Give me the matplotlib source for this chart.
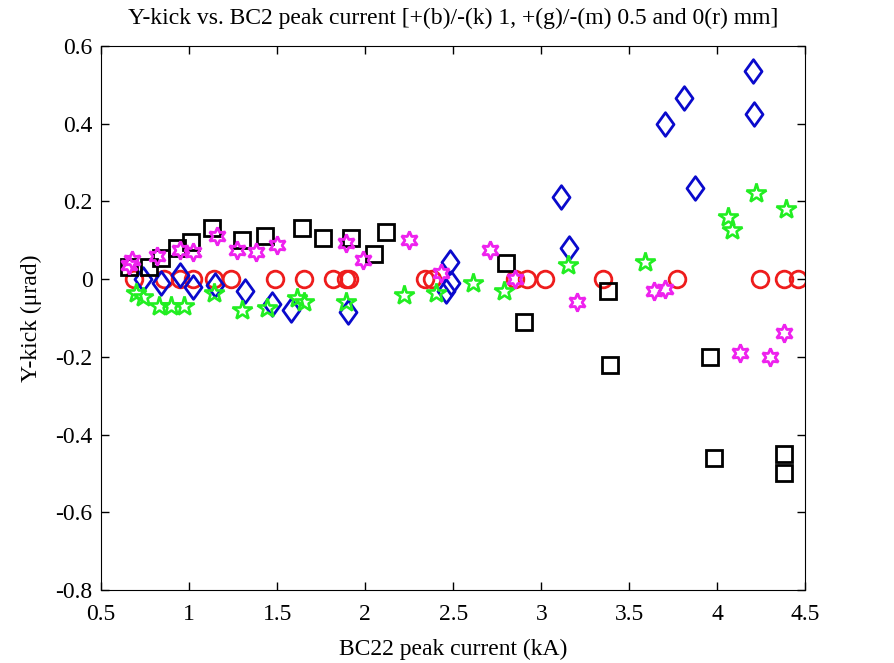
import matplotlib
matplotlib.use("Agg")
import matplotlib.pyplot as plt
from matplotlib.path import Path

# +1 mm (blue diamonds)
blue_x = [0.74, 0.84, 0.95, 1.02, 1.15, 1.32, 1.47, 1.58, 1.90,
          2.46, 2.48, 2.49, 3.11, 3.16, 3.70, 3.81, 3.87, 4.20, 4.21]
blue_y = [0.0, -0.01, 0.01, -0.02, -0.015, -0.03, -0.065, -0.08, -0.085,
          -0.03, 0.045, -0.01, 0.21, 0.08, 0.40, 0.465, 0.235, 0.535, 0.425]

# -1 mm (black squares)
black_x = [0.66, 0.77, 0.84, 0.93, 1.01, 1.13, 1.30, 1.43, 1.64, 1.76,
           1.92, 2.05, 2.12, 2.80, 2.90, 3.38, 3.39, 3.96, 3.98, 4.38, 4.38]
black_y = [0.03, 0.03, 0.055, 0.08, 0.095, 0.13, 0.10, 0.11, 0.13, 0.105,
           0.105, 0.065, 0.12, 0.04, -0.11, -0.03, -0.22, -0.20, -0.46,
           -0.45, -0.50]

# +0.5 mm (green stars)
green_x = [0.70, 0.74, 0.83, 0.90, 0.97, 1.14, 1.30, 1.44, 1.61, 1.65,
           1.89, 2.22, 2.40, 2.61, 2.79, 3.15, 3.59, 4.06, 4.08, 4.22, 4.39]
green_y = [-0.035, -0.045, -0.07, -0.07, -0.07, -0.037, -0.08, -0.075,
           -0.05, -0.06, -0.06, -0.04, -0.035, -0.01, -0.03, 0.035, 0.045,
           0.16, 0.125, 0.22, 0.18]

# -0.5 mm (magenta hexagrams)
magenta_x = [0.66, 0.675, 0.82, 0.95, 1.02, 1.16, 1.27, 1.38, 1.50, 1.89,
             1.99, 2.25, 2.43, 2.71, 2.85, 3.20, 3.64, 3.70, 4.13, 4.30, 4.38]
magenta_y = [0.035, 0.05, 0.06, 0.075, 0.07, 0.11, 0.075, 0.07, 0.088,
             0.093, 0.05, 0.10, 0.015, 0.075, 0.0, -0.06, -0.03, -0.025,
             -0.19, -0.20, -0.14]

# 0 mm (red circles)
red_x = [0.69, 0.86, 0.95, 1.02, 1.14, 1.24, 1.49, 1.65, 1.82, 1.89, 1.91,
         2.34, 2.38, 2.85, 2.92, 3.02, 3.35, 3.77, 4.24, 4.38, 4.46]
red_y = [0.0] * len(red_x)

plt.rcParams["font.family"] = ["Liberation Serif", "DejaVu Serif"]

fig = plt.figure(figsize=(8.94, 6.63), dpi=100)
ax = fig.add_axes([0.113, 0.110, 0.788, 0.821])

hexagram = (6, 1, 0)
# MATLAB-like diamond, a bit wider than matplotlib's thin 'd'
diamond = Path([(0, 1), (0.72, 0), (0, -1), (-0.72, 0), (0, 1)],
               [Path.MOVETO, Path.LINETO, Path.LINETO, Path.LINETO,
                Path.CLOSEPOLY])

ax.plot(red_x, red_y, "o", color="#ee1c1c", mfc="none", ms=12, mew=2)
ax.plot(blue_x, blue_y, marker=diamond, ls="none", color="#0a0acc",
        mfc="none", ms=17, mew=2)
ax.plot(black_x, black_y, "s", color="black", mfc="none", ms=11, mew=2)
ax.plot(green_x, green_y, marker="*", ls="none", color="#22ee22",
        mfc="none", ms=15, mew=1.9)
ax.plot(magenta_x, magenta_y, marker=hexagram, ls="none", color="#ee22ee",
        mfc="none", ms=13, mew=2)

ax.set_xlim(0.5, 4.5)
ax.set_ylim(-0.8, 0.6)
ax.set_xticks([0.5, 1, 1.5, 2, 2.5, 3, 3.5, 4, 4.5])
ax.set_xticklabels(["0.5", "1", "1.5", "2", "2.5", "3", "3.5", "4", "4.5"])
ax.set_yticks([-0.8, -0.6, -0.4, -0.2, 0, 0.2, 0.4, 0.6])
ax.set_yticklabels(["-0.8", "-0.6", "-0.4", "-0.2", "0", "0.2", "0.4", "0.6"])
ax.tick_params(direction="in", top=True, right=True, labelsize=17,
               length=6, width=1)
ax.tick_params(axis="x", pad=10)
ax.tick_params(axis="y", pad=6)

ax.set_title("Y-kick vs. BC2 peak current [+(b)/-(k) 1, +(g)/-(m) 0.5 and 0(r) mm]",
             fontsize=17, pad=16)
ax.set_xlabel("BC22 peak current (kA)", fontsize=17, labelpad=10)
ax.set_ylabel("Y-kick (\u03bcrad)", fontsize=17, labelpad=10)

fig.savefig("out.png", dpi=100)
